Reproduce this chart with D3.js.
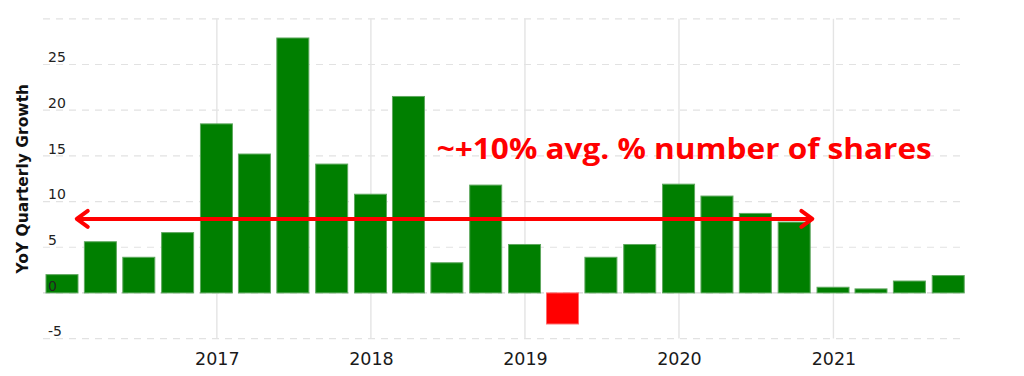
<!DOCTYPE html>
<html>
<head>
<meta charset="utf-8">
<script src="https://cdn.jsdelivr.net/npm/d3@7"></script>
<style>
  html, body { margin: 0; padding: 0; background: #fff; }
  svg { display: block; }
</style>
</head>
<body>
<svg id="chart" width="1024" height="376"></svg>
<script>
// ---- data ----
const quarters = [
  "2015-12-31","2016-03-31","2016-06-30","2016-09-30",
  "2016-12-31","2017-03-31","2017-06-30","2017-09-30",
  "2017-12-31","2018-03-31","2018-06-30","2018-09-30",
  "2018-12-31","2019-03-31","2019-06-30","2019-09-30",
  "2019-12-31","2020-03-31","2020-06-30","2020-09-30",
  "2020-12-31","2021-03-31","2021-06-30","2021-09-30"
];
const growth = [
  2.0, 5.6, 3.9, 6.6,
  18.5, 15.2, 27.9, 14.1,
  10.8, 21.5, 3.3, 11.8,
  5.3, -3.4, 3.9, 5.3,
  11.9, 10.6, 8.7, 7.75,
  0.62, 0.44, 1.3, 1.9
];
const yearTicks = ["2017", "2018", "2019", "2020", "2021"];
const yTicks = [-5, 0, 5, 10, 15, 20, 25];
const yGrid = [-5, 0, 5, 10, 15, 20, 25, 30];
const yTitle = "YoY Quarterly Growth";
const avgLabel = "~+10% avg. % number of shares";
const avgValue = 8.1;
const avgArrowDates = ["2016-02-04", "2020-11-12"];
const avgLabelAnchor = { date: "2018-06-06", value: 14.7 };

// ---- scales ----
const parse = d3.utcParse("%Y-%m-%d");
const svg = d3.select("#chart");
const x = d3.scaleUtc()
  .domain([parse("2015-11-16"), parse("2021-11-04")])
  .range([43, 963]);
const y = d3.scaleLinear().domain([-5, 30]).range([338.6, 18.8]);
const barW = 32;

// ---- gridlines ----
const grid = svg.append("g");
grid.selectAll("line.h").data(yGrid.filter(d => d !== 0)).join("line")
  .attr("x1", x.range()[0]).attr("x2", x.range()[1])
  .attr("y1", d => y(d)).attr("y2", d => y(d))
  .attr("stroke", "#e2e2e2").attr("stroke-width", 1.2)
  .attr("stroke-dasharray", "7,6");
grid.append("line")
  .attr("x1", x.range()[0]).attr("x2", x.range()[1])
  .attr("y1", y(0)).attr("y2", y(0))
  .attr("stroke", "#d6d6d6").attr("stroke-width", 1.2)
  .attr("stroke-dasharray", "7,6");
grid.selectAll("line.v").data(yearTicks).join("line")
  .attr("x1", d => x(parse(d + "-01-01"))).attr("x2", d => x(parse(d + "-01-01")))
  .attr("y1", y(30)).attr("y2", y(-5))
  .attr("stroke", "#e4e4e4").attr("stroke-width", 1.4);

// ---- bars ----
svg.append("g").selectAll("rect").data(quarters.map((q, i) => ({ d: parse(q), v: growth[i] })))
  .join("rect")
  .attr("x", d => x(d.d) - barW / 2)
  .attr("width", barW)
  .attr("y", d => y(Math.max(0, d.v)))
  .attr("height", d => Math.abs(y(d.v) - y(0)))
  .attr("fill", d => d.v < 0 ? "#ff0000" : "#007f00")
  .attr("stroke", d => d.v < 0 ? "#ff6a6a" : "#5fa85f")
  .attr("stroke-width", 1);

// ---- axis labels ----
const yAxis = d3.axisLeft(y).tickValues(yTicks).tickSize(0).tickFormat(d => String(d));
const yg = svg.append("g").attr("transform", "translate(48,0)").call(yAxis);
yg.select(".domain").remove();
yg.selectAll("text")
  .attr("x", 0).attr("dy", "-0.2em")
  .attr("text-anchor", "start")
  .style("font-family", "'DejaVu Sans', Verdana, sans-serif")
  .style("font-size", "14px")
  .attr("fill", "#222");

const xAxis = d3.axisBottom(x).tickValues(yearTicks.map(d => parse(d + "-01-01")))
  .tickSize(0).tickFormat(d3.utcFormat("%Y"));
const xg = svg.append("g").attr("transform", "translate(0,348)").call(xAxis);
xg.select(".domain").remove();
xg.selectAll("text")
  .attr("y", 0).attr("dy", "0.95em")
  .style("font-family", "'DejaVu Sans', Verdana, sans-serif")
  .style("font-size", "17.5px")
  .attr("fill", "#1a1a1a");

svg.append("text")
  .attr("transform", `translate(28,${(y(30) + y(-5)) / 2 + 0}) rotate(-90)`)
  .attr("text-anchor", "middle")
  .style("font-family", "'DejaVu Sans', Verdana, sans-serif")
  .style("font-size", "15.5px")
  .style("font-weight", "bold")
  .attr("fill", "#111")
  .text(yTitle);

// ---- average arrow annotation ----
const ax1 = x(parse(avgArrowDates[0])), ax2 = x(parse(avgArrowDates[1])), ay = y(avgValue);
const ann = svg.append("g").attr("stroke", "#ff0000").attr("stroke-width", 4)
  .attr("fill", "none").attr("stroke-linecap", "round").attr("stroke-linejoin", "round");
ann.append("line").attr("x1", ax1 + 1).attr("x2", ax2 - 1).attr("y1", ay).attr("y2", ay);
ann.append("path").attr("d", d3.line()([[ax1 + 11, ay - 8], [ax1, ay], [ax1 + 11, ay + 8]]));
ann.append("path").attr("d", d3.line()([[ax2 - 11, ay - 8], [ax2, ay], [ax2 - 11, ay + 8]]));

svg.append("text")
  .attr("x", x(parse(avgLabelAnchor.date)))
  .attr("y", y(avgLabelAnchor.value))
  .attr("textLength", 495)
  .attr("lengthAdjust", "spacingAndGlyphs")
  .style("font-family", "'Open Sans', sans-serif")
  .style("font-size", "29px")
  .style("font-weight", "bold")
  .attr("fill", "#ff0000")
  .text(avgLabel);
</script>
</body>
</html>
